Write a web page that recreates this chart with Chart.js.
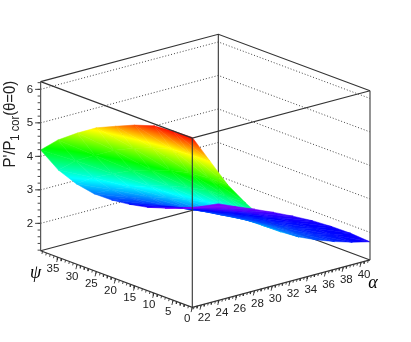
<!DOCTYPE html>
<html>
<head>
<meta charset="utf-8">
<style>
  html, body { margin: 0; padding: 0; background: #fff; }
  #wrap { width: 411px; height: 342px; }
</style>
<script src="https://cdn.jsdelivr.net/npm/chart.js@4"></script>
</head>
<body>
<div id="wrap"><canvas id="chart" width="411" height="342"></canvas></div>
<script>
// Grid of the surface
const alphaValues = [21, 23, 25, 27, 29, 31, 33, 35, 37, 39, 41];
const psiValues = [0, 5, 10, 15, 20, 25, 30, 35, 39.5];

// P'/P1 cor values, one row per alpha, one column per psi
const ratioValues = [
  [6.25, 6.23, 6.17, 5.98, 5.73, 5.47, 5.10, 4.68, 4.19],
  [5.40, 5.38, 5.33, 5.16, 4.93, 4.66, 4.30, 3.92, 3.45],
  [4.55, 4.54, 4.49, 4.34, 4.14, 3.91, 3.60, 3.28, 2.90],
  [3.87, 3.86, 3.82, 3.69, 3.52, 3.32, 3.06, 2.78, 2.46],
  [3.26, 3.25, 3.22, 3.12, 2.98, 2.82, 2.63, 2.40, 2.13],
  [2.72, 2.71, 2.69, 2.61, 2.50, 2.39, 2.24, 2.07, 1.86],
  [2.43, 2.42, 2.40, 2.33, 2.23, 2.13, 2.00, 1.85, 1.63],
  [2.20, 2.19, 2.17, 2.11, 2.03, 1.93, 1.81, 1.67, 1.46],
  [2.01, 2.00, 1.98, 1.94, 1.87, 1.78, 1.66, 1.52, 1.32],
  [1.85, 1.85, 1.84, 1.80, 1.73, 1.64, 1.52, 1.39, 1.23],
  [1.72, 1.76, 1.75, 1.71, 1.63, 1.53, 1.41, 1.28, 1.17],
];

// Tick labels of the three axes
const ratioTicks = [2, 3, 4, 5, 6];
const psiTicks = [0, 5, 10, 15, 20, 25, 30, 35];
const alphaTicks = [22, 24, 26, 28, 30, 32, 34, 36, 38, 40];

// Axis ranges of the box
const alphaRange = [21, 41];
const psiRange = [0, 39.5];
const ratioRange = [1.18, 6.23];

// Palette, value -> colour
const paletteValues = [1.35, 1.8, 3.15, 4.3, 5.35, 6.25];
const paletteColors = ["#8000ff", "#0000ff", "#00ffff", "#00ff00", "#ffff00", "#ff0000"];

// Oblique view of the box on the page
const view = {
  x0: 192.3, y0: 307.3,
  alphaX: 8.885, alphaY: -2.37,
  psiX: -3.84, psiY: -1.43,
  ratioY: -33.5,
};

function project(alpha, psi, ratio) {
  const a = alpha - alphaRange[0];
  const p = psi - psiRange[0];
  return {
    x: view.x0 + a * view.alphaX + p * view.psiX,
    y: view.y0 + a * view.alphaY + p * view.psiY + (ratio - ratioRange[0]) * view.ratioY,
    z: ratio,
  };
}

function lineSet(points, color, width, dash) {
  return {
    data: points,
    showLine: true,
    fill: false,
    borderColor: color,
    borderWidth: width,
    borderDash: dash || [],
    pointRadius: 0,
    spanGaps: false,
  };
}

// Gap between two separate strokes of one dataset
const gap = { x: NaN, y: NaN };

function toRgb(hex) {
  return [1, 3, 5].map((i) => parseInt(hex.slice(i, i + 2), 16));
}

function colorAt(value) {
  if (value <= paletteValues[0]) return paletteColors[0];
  for (let i = 1; i < paletteValues.length; i++) {
    if (value <= paletteValues[i]) {
      const t = (value - paletteValues[i - 1]) / (paletteValues[i] - paletteValues[i - 1]);
      const a = toRgb(paletteColors[i - 1]);
      const b = toRgb(paletteColors[i]);
      const c = a.map((v, k) => Math.round(v + (b[k] - v) * t));
      return `rgb(${c[0]},${c[1]},${c[2]})`;
    }
  }
  return paletteColors[paletteColors.length - 1];
}

// Linear gradient following the value across one triangle of the surface
function triangleGradient(context) {
  const dataset = context.dataset;
  const { chart } = context;
  // scales have no pixels before the first layout
  if (!chart.chartArea) return colorAt(dataset.data[0].z);
  if (dataset.gradient) return dataset.gradient;
  const xs = chart.scales.x;
  const ys = chart.scales.y;
  const pts = dataset.data.slice(0, 3).map((p) => ({
    x: xs.getPixelForValue(p.x),
    y: ys.getPixelForValue(p.y),
    z: p.z,
  }));
  const [a, b, c] = pts;
  const det = (b.x - a.x) * (c.y - a.y) - (c.x - a.x) * (b.y - a.y);
  const gx = ((b.z - a.z) * (c.y - a.y) - (c.z - a.z) * (b.y - a.y)) / det;
  const gy = ((c.z - a.z) * (b.x - a.x) - (b.z - a.z) * (c.x - a.x)) / det;
  const norm = gx * gx + gy * gy;
  const sorted = pts.slice().sort((p, q) => p.z - q.z);
  const low = sorted[0].z;
  const high = sorted[2].z;
  if (!isFinite(norm) || norm === 0 || high === low) {
    dataset.gradient = colorAt(low);
    return dataset.gradient;
  }
  const dz = high - low;
  const grad = chart.ctx.createLinearGradient(
    sorted[0].x, sorted[0].y,
    sorted[0].x + (gx / norm) * dz, sorted[0].y + (gy / norm) * dz
  );
  grad.addColorStop(0, colorAt(low));
  paletteValues.forEach((v) => {
    if (v > low && v < high) grad.addColorStop((v - low) / dz, colorAt(v));
  });
  grad.addColorStop(1, colorAt(high));
  dataset.gradient = grad;
  return grad;
}

function triangleSet(a, b, c) {
  return {
    data: [a, b, c, a],
    showLine: true,
    fill: "shape",
    backgroundColor: triangleGradient,
    borderColor: triangleGradient,
    borderWidth: 0.5,
    pointRadius: 0,
  };
}

// Surface cells, far ones first so they land on top
function surfaceSets() {
  const sets = [];
  for (let i = alphaValues.length - 2; i >= 0; i--) {
    for (let j = psiValues.length - 2; j >= 0; j--) {
      const a = project(alphaValues[i], psiValues[j], ratioValues[i][j]);
      const b = project(alphaValues[i + 1], psiValues[j], ratioValues[i + 1][j]);
      const c = project(alphaValues[i + 1], psiValues[j + 1], ratioValues[i + 1][j + 1]);
      const d = project(alphaValues[i], psiValues[j + 1], ratioValues[i][j + 1]);
      sets.push(triangleSet(b, c, d));
      sets.push(triangleSet(a, b, d));
    }
  }
  return sets;
}

// Short tick marks next to an axis edge
function tickPoints(from, to, step, at, dx, dy) {
  const points = [];
  const count = Math.round((to - from) / step);
  for (let i = 0; i <= count; i++) {
    const p = at(from + i * step);
    points.push({ x: p.x, y: p.y }, { x: p.x + dx, y: p.y + dy }, gap);
  }
  return points;
}

const [aMin, aMax] = alphaRange;
const [pMin, pMax] = psiRange;
const [rMin, rMax] = ratioRange;

const lineColor = "#333";
const datasets = [];

// Front edges of the box, over the surface
datasets.push(lineSet([project(aMin, pMin, rMin), project(aMin, pMin, rMax)], lineColor, 1.1));
datasets.push(lineSet([project(aMin, pMax, rMax), project(aMin, pMin, rMax), project(aMax, pMin, rMax)], lineColor, 1.1));
datasets.push(lineSet([project(aMin, pMax, rMin), project(aMin, pMin, rMin), project(aMax, pMin, rMin)], lineColor, 1.1));
datasets.push(lineSet([project(aMin, pMax, rMin), project(aMin, pMax, rMax)], "#555", 1.2));
datasets.push(lineSet([project(aMax, pMin, rMin), project(aMax, pMin, rMax)], "#666", 1.4));

// Axis ticks
datasets.push(lineSet(tickPoints(0, 39, 1, (v) => project(aMin, v, rMin), -0.6, 2.4), lineColor, 0.9));
datasets.push(lineSet(tickPoints(0, 35, 5, (v) => project(aMin, v, rMin), -1.2, 4.8), lineColor, 0.9));
datasets.push(lineSet(tickPoints(21.2, 40.8, 0.4, (v) => project(v, pMin, rMin), -0.6, 2.4), lineColor, 0.9));
datasets.push(lineSet(tickPoints(22, 40, 2, (v) => project(v, pMin, rMin), -1.2, 4.8), lineColor, 0.9));
datasets.push(lineSet(tickPoints(1.2, 6.2, 0.2, (v) => project(aMin, pMax, v), -3, 0), lineColor, 0.9));
datasets.push(lineSet(tickPoints(2, 6, 1, (v) => project(aMin, pMax, v), -5.5, 0), lineColor, 0.9));

datasets.push(...surfaceSets());

// Back of the box, under the surface
datasets.push(lineSet([project(aMin, pMax, rMax), project(aMax, pMax, rMax), project(aMax, pMin, rMax)], lineColor, 1.1));
datasets.push(lineSet([project(aMin, pMax, rMin), project(aMax, pMax, rMin), project(aMax, pMin, rMin)], lineColor, 1.1));
datasets.push(lineSet([project(aMax, pMax, rMin), project(aMax, pMax, rMax)], lineColor, 1.1));
ratioTicks.forEach((v) => {
  datasets.push(lineSet([project(aMin, pMax, v), project(aMax, pMax, v), project(aMax, pMin, v)], "#444", 1, [1, 2]));
});

// All labels: tick numbers, axis names and the title
const textPlugin = {
  id: "boxText",
  afterDraw(chart) {
    const { ctx, scales } = chart;
    const px = (p) => ({ x: scales.x.getPixelForValue(p.x), y: scales.y.getPixelForValue(p.y) });
    ctx.save();
    ctx.fillStyle = "#222";
    ctx.textBaseline = "middle";
    ctx.font = '11.5px "Liberation Sans"';
    ctx.textAlign = "right";
    ratioTicks.forEach((v) => {
      const p = px(project(aMin, pMax, v));
      ctx.fillText(String(v), p.x - 7.5, p.y);
    });
    ctx.textAlign = "center";
    psiTicks.forEach((v) => {
      const p = px(project(aMin, v, rMin));
      ctx.fillText(String(v), p.x - 5, p.y + 12);
    });
    alphaTicks.forEach((v) => {
      const p = px(project(v, pMin, rMin));
      ctx.fillText(String(v), p.x + 3, p.y + 13);
    });
    ctx.fillStyle = "#000";
    ctx.font = 'italic 18px "Liberation Serif"';
    const psiName = px(project(aMin, pMax, rMin));
    ctx.fillText("ψ", psiName.x - 5, psiName.y + 22);
    const alphaName = px(project(aMax, pMin, rMin));
    ctx.fillText("α", alphaName.x + 3, alphaName.y + 23);

    // Rotated title, read bottom to top, a bit condensed along the text
    ctx.translate(14.5, 167.5);
    ctx.rotate(-Math.PI / 2);
    ctx.scale(0.93, 1);
    ctx.textAlign = "left";
    ctx.textBaseline = "alphabetic";
    ctx.fillStyle = "#222";
    ctx.font = '16px "Liberation Sans"';
    ctx.fillText("P'/P", 0, 0);
    let left = ctx.measureText("P'/P").width;
    ctx.font = '12px "Liberation Sans"';
    ctx.fillText("1 cor", left, 4);
    left += ctx.measureText("1 cor").width;
    ctx.font = '16px "Liberation Sans"';
    ctx.fillText("(θ=0)", left, 0);
    ctx.restore();
  },
};

new Chart(document.getElementById("chart"), {
  type: "scatter",
  data: { datasets },
  options: {
    responsive: false,
    animation: false,
    layout: { padding: 0 },
    events: [],
    plugins: { legend: { display: false }, tooltip: { enabled: false } },
    scales: {
      x: { type: "linear", display: false, min: 0, max: 411 },
      y: { type: "linear", display: false, min: 0, max: 342, reverse: true },
    },
  },
  plugins: [textPlugin],
});
</script>
</body>
</html>
